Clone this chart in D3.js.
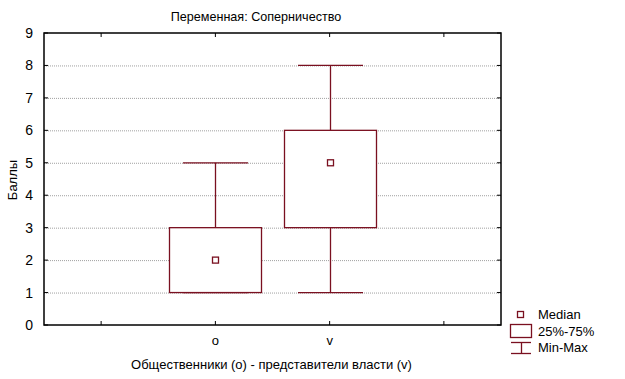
<!DOCTYPE html>
<html><head><meta charset="utf-8">
<script src="https://cdn.jsdelivr.net/npm/d3@7"></script>
<style>body{margin:0;background:#fff}svg{display:block;font-family:"Liberation Sans",Arial,sans-serif}</style>
</head><body><svg id="c" width="625" height="379"></svg>
<script>
const categories = ["o", "v"];
const minVals = [1, 1];
const q1Vals = [1, 3];
const medianVals = [2, 5];
const q3Vals = [3, 6];
const maxVals = [5, 8];
const yTicks = [0,1,2,3,4,5,6,7,8,9];
const title = "Переменная: Соперничество";
const xLabel = "Общественники (o) - представители власти (v)";
const yLabel = "Баллы";
const legendLabels = ["Median", "25%-75%", "Min-Max"];

const color = "#7a1020";
const svg = d3.select("#c");
const L = 44, R = 501, T = 33, B = 325;
const y = d3.scaleLinear().domain([0, 9]).range([B, T]);
const x = d3.scaleLinear().domain([0, 4]).range([L, R]);
const catPos = [1.5, 2.5];
const xTickPos = [0.5, 1.5, 2.5, 3.5];

// gridlines
svg.append("g").selectAll("line").data(yTicks.filter(d => d > 0 && d < 9)).join("line")
  .attr("x1", L).attr("x2", R).attr("y1", d => y(d) + 0.5).attr("y2", d => y(d) + 0.5)
  .attr("stroke", "#a0a0a0").attr("stroke-width", 1).attr("stroke-dasharray", "1,1");

// frame
svg.append("rect").attr("x", L).attr("y", T).attr("width", R - L).attr("height", B - T)
  .attr("fill", "none").attr("stroke", "#000").attr("stroke-width", 1.5);

// y tick labels
const yAxisL = d3.axisLeft(y).tickValues(yTicks).tickSize(0).tickPadding(11);
const gy = svg.append("g").attr("transform", `translate(${L},0)`).call(yAxisL);
gy.select(".domain").remove();
gy.selectAll("text").attr("font-size", 14).attr("fill", "#000").attr("font-family", "Liberation Sans, Arial, sans-serif");
svg.append("g").selectAll("line").data(yTicks).join("line")
  .attr("x1", R - 4).attr("x2", R).attr("y1", d => y(d)).attr("y2", d => y(d)).attr("stroke", "#000");
svg.append("g").selectAll("line").data(yTicks).join("line")
  .attr("x1", L).attr("x2", L + 4).attr("y1", d => y(d)).attr("y2", d => y(d)).attr("stroke", "#000");

// x ticks inward top & bottom
svg.append("g").selectAll("line").data(xTickPos).join("line")
  .attr("x1", d => x(d)).attr("x2", d => x(d)).attr("y1", B).attr("y2", B - 4).attr("stroke", "#000");
svg.append("g").selectAll("line").data(xTickPos).join("line")
  .attr("x1", d => x(d)).attr("x2", d => x(d)).attr("y1", T).attr("y2", T + 4).attr("stroke", "#000");
svg.append("g").selectAll("text").data(categories).join("text")
  .attr("x", (d, i) => x(catPos[i])).attr("y", 345).attr("text-anchor", "middle")
  .attr("font-size", 13).text(d => d);

// boxes
const boxW = 92, capW = 65, medS = 6;
const g = svg.append("g").attr("stroke", color).attr("fill", "none").attr("stroke-width", 1.3);
categories.forEach((c, i) => {
  const cx = Math.round(x(catPos[i])) + 0.5;
  g.append("line").attr("x1", cx).attr("x2", cx).attr("y1", y(maxVals[i])).attr("y2", y(q3Vals[i]));
  g.append("line").attr("x1", cx).attr("x2", cx).attr("y1", y(q1Vals[i])).attr("y2", y(minVals[i]));
  g.append("line").attr("x1", cx - capW / 2).attr("x2", cx + capW / 2).attr("y1", y(maxVals[i])).attr("y2", y(maxVals[i]));
  g.append("line").attr("x1", cx - capW / 2).attr("x2", cx + capW / 2).attr("y1", y(minVals[i])).attr("y2", y(minVals[i]));
  g.append("rect").attr("x", cx - boxW / 2).attr("width", boxW)
    .attr("y", y(q3Vals[i])).attr("height", y(q1Vals[i]) - y(q3Vals[i])).attr("fill", "#fff");
  g.append("rect").attr("x", cx - medS / 2).attr("y", y(medianVals[i]) - medS / 2)
    .attr("width", medS).attr("height", medS);
});

// titles
svg.append("text").attr("x", 256).attr("y", 21).attr("text-anchor", "middle").attr("font-size", 12.6).text(title);
svg.append("text").attr("x", 271.5).attr("y", 369).attr("text-anchor", "middle").attr("font-size", 13).text(xLabel);
svg.append("text").attr("transform", "translate(17,180) rotate(-90)").attr("text-anchor", "middle").attr("font-size", 13).text(yLabel);

// legend
const lg = svg.append("g").attr("stroke", color).attr("fill", "none").attr("stroke-width", 1.3);
lg.append("rect").attr("x", 517.5).attr("y", 311.5).attr("width", 6).attr("height", 6);
lg.append("rect").attr("x", 510.5).attr("y", 324.5).attr("width", 21).attr("height", 13);
lg.append("line").attr("x1", 511).attr("x2", 531).attr("y1", 342.5).attr("y2", 342.5);
lg.append("line").attr("x1", 511).attr("x2", 531).attr("y1", 353.5).attr("y2", 353.5);
lg.append("line").attr("x1", 521.5).attr("x2", 521.5).attr("y1", 342.5).attr("y2", 353.5);
svg.append("g").selectAll("text").data(legendLabels).join("text")
  .attr("x", 538).attr("y", (d, i) => 319 + i * 16.5).attr("font-size", 13).text(d => d);
</script></body></html>
